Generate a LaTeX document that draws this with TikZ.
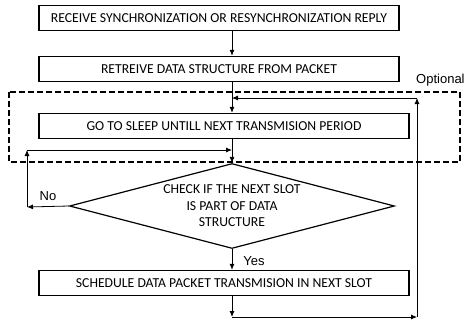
\documentclass[tikz,border=0pt]{standalone}
\usepackage{fontspec}
\setmainfont{Carlito}
\newfontfamily\arialfont{Liberation Sans}
\usetikzlibrary{shapes.geometric,arrows.meta}

\begin{document}
\begin{tikzpicture}[x=1pt, y=-1pt,
	stepbox/.style={draw=black, text=black, shape=rectangle, line width=1.4pt, minimum width=370pt, minimum height=25pt, inner sep=0pt, font=\fontsize{13.7}{15}\selectfont},
	decision/.style={draw=black, text=black, shape=diamond, aspect=3.8, line width=1.2pt, minimum width=325pt, minimum height=85pt, inner sep=0pt, align=center, font=\fontsize{13.7}{16.5}\selectfont},
	lbl/.style={text=black, inner sep=0pt, font=\arialfont\fontsize{13}{15}\selectfont},
	flow/.style={-{Latex[length=6pt,width=5pt]}, line width=0.8pt}]
	\useasboundingbox (0,0) rectangle (468,324);

	\node[stepbox, minimum width=360pt] (box_1) at (219,18) {RECEIVE SYNCHRONIZATION OR RESYNCHRONIZATION REPLY};
	\node[stepbox, minimum width=360pt] (box_2) at (219,69) {RETREIVE DATA STRUCTURE FROM PACKET};
	\node[stepbox] (box_3) at (224,126) {GO TO SLEEP UNTILL NEXT TRANSMISION PERIOD};
	\node[decision] (check) at (232,206) {CHECK IF THE NEXT SLOT\\IS PART OF DATA\\STRUCTURE};
	\node[stepbox] (box_4) at (224,283) {SCHEDULE DATA PACKET TRANSMISION IN NEXT SLOT};

	% optional part
	\draw[line width=1.2pt, dash pattern=on 6pt off 3pt] (9,92) rectangle (460,162);
	\node[lbl, anchor=west] (optional) at (416,80) {Optional};

	\node[lbl] (no) at (48,196) {No};
	\node[lbl] (yes) at (254,261) {Yes};

	\coordinate (no_corner) at (27,207);
	\coordinate (no_top) at (27,150);
	\coordinate (no_end) at (232,150);
	\coordinate (back_low) at (232,317);
	\coordinate (back_right) at (417,317);
	\coordinate (back_top) at (417,98);
	\coordinate (back_end) at (232,98);

	\draw[flow] (box_1.south -| check.north) -- (box_2.north -| check.north);
	\draw[flow] (box_2.south -| check.north) -- (box_3.north -| check.north);
	\draw[flow] (box_3.south -| check.north) -- (check.north);
	\draw[flow] (check.south) -- (box_4.north -| check.south);

	\draw[flow] (check.west) -- (no_corner);
	\draw[flow] (no_corner) -- (no_top);
	\draw[flow] (no_top) -- (no_end);

	\draw[flow] (box_4.south -| check.south) -- (back_low);
	\draw[flow] (back_low) -- (back_right);
	\draw[flow] (back_right) -- (back_top);
	\draw[flow] (back_top) -- (back_end);
\end{tikzpicture}
\end{document}
